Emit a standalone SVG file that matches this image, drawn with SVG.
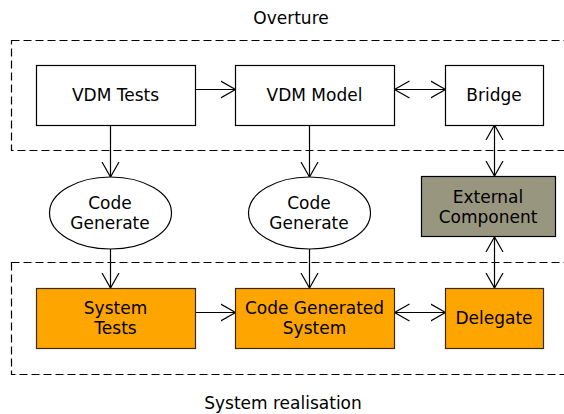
<svg xmlns="http://www.w3.org/2000/svg" width="564" height="414" viewBox="0 0 564 414">
<style>
text{font-family:"DejaVu Sans",sans-serif;font-size:17px;fill:#000;text-anchor:middle}
.box{fill:#fff;stroke:#000;stroke-width:1.2}
.org{fill:#FFA500;stroke:#3a2a10;stroke-width:1.2}
.gry{fill:#999680;stroke:#000;stroke-width:1.2}
.cl{fill:none;stroke:#000;stroke-width:1.2;stroke-dasharray:8,4}
.e{fill:none;stroke:#000;stroke-width:1.2}
</style>
<defs>
<marker id="a" markerUnits="userSpaceOnUse" markerWidth="20" markerHeight="20" refX="15" refY="9" orient="auto-start-reverse" viewBox="0 0 20 18">
<path d="M0,0.5 L15,9 L0,17.5" fill="none" stroke="#000" stroke-width="1.2"/>
</marker>
</defs>
<g id="clusters">
<rect class="cl" x="11.5" y="40.5" width="570" height="110"/>
<rect class="cl" x="11.5" y="262.5" width="570" height="112"/>
<text x="291" y="24">Overture</text>
<text x="283" y="409">System realisation</text>
</g>
<g id="connectors">
<line class="e" x1="195.5" y1="89.5" x2="235.5" y2="89.5" marker-end="url(#a)"/>
<line class="e" x1="394.5" y1="89.5" x2="445.5" y2="89.5" marker-start="url(#a)" marker-end="url(#a)"/>
<line class="e" x1="110.5" y1="125" x2="110.5" y2="177" marker-end="url(#a)"/>
<line class="e" x1="309.5" y1="125" x2="309.5" y2="177" marker-end="url(#a)"/>
<line class="e" x1="494.5" y1="125" x2="494.5" y2="176" marker-start="url(#a)" marker-end="url(#a)"/>
<line class="e" x1="110.5" y1="249" x2="110.5" y2="288" marker-end="url(#a)"/>
<line class="e" x1="309.5" y1="249" x2="309.5" y2="288" marker-end="url(#a)"/>
<line class="e" x1="494.5" y1="237" x2="494.5" y2="288" marker-start="url(#a)" marker-end="url(#a)"/>
<line class="e" x1="195.5" y1="312.5" x2="235.5" y2="312.5" marker-end="url(#a)"/>
<line class="e" x1="394.5" y1="312.5" x2="445.5" y2="312.5" marker-start="url(#a)" marker-end="url(#a)"/>
</g>
<g id="vdm_tests"><rect class="box" x="36.5" y="65.5" width="159" height="60"/><text x="115.5" y="101">VDM Tests</text></g>
<g id="vdm_model"><rect class="box" x="235.5" y="65.5" width="159" height="60"/><text x="314.5" y="101">VDM Model</text></g>
<g id="bridge"><rect class="box" x="445.5" y="65.5" width="98" height="60"/><text x="494" y="101">Bridge</text></g>
<g id="codegen1"><ellipse class="box" cx="110.5" cy="213" rx="61" ry="36"/><text x="110" y="209">Code</text><text x="110" y="229">Generate</text></g>
<g id="codegen2"><ellipse class="box" cx="309.5" cy="213" rx="61" ry="36"/><text x="309" y="209">Code</text><text x="309" y="229">Generate</text></g>
<g id="external"><rect class="gry" x="421.5" y="176.5" width="134" height="60"/><text x="488" y="203">External</text><text x="488" y="223">Component</text></g>
<g id="system_tests"><rect class="org" x="36.5" y="288.5" width="159" height="60"/><text x="115.5" y="314">System</text><text x="115.5" y="334">Tests</text></g>
<g id="cgs"><rect class="org" x="235.5" y="288.5" width="159" height="60"/><text x="314.5" y="314">Code Generated</text><text x="314.5" y="334">System</text></g>
<g id="delegate"><rect class="org" x="445.5" y="288.5" width="98" height="60"/><text x="494" y="324">Delegate</text></g>
</svg>
